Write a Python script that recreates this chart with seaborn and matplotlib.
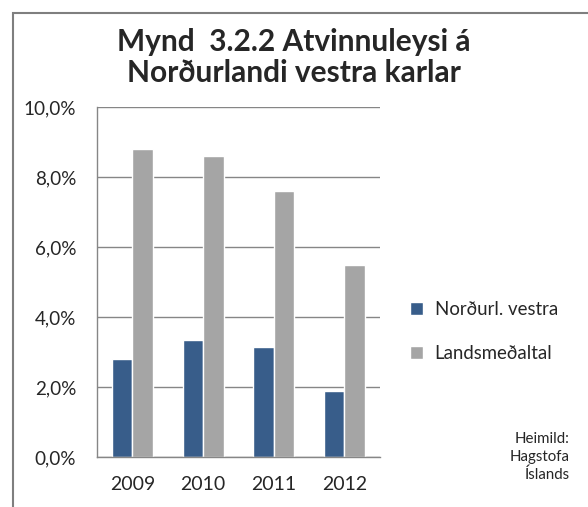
import matplotlib
matplotlib.use('Agg')
import matplotlib.pyplot as plt
from matplotlib.lines import Line2D
import pandas as pd
import seaborn as sns

years = ['2009', '2010', '2011', '2012']
nordurl_vestra = [2.8, 3.35, 3.15, 1.9]
landsmedaltal = [8.8, 8.6, 7.6, 5.5]
series_names = ['Norðurl. vestra', 'Landsmeðaltal']
y_ticks = [0, 2, 4, 6, 8, 10]
y_tick_labels = ['0,0%', '2,0%', '4,0%', '6,0%', '8,0%', '10,0%']

df = pd.DataFrame({
    'year': years * 2,
    'value': nordurl_vestra + landsmedaltal,
    'series': [series_names[0]] * len(years) + [series_names[1]] * len(years),
})

sns.set_style('white')
plt.rcParams['font.family'] = ['Lato', 'DejaVu Sans']

fig = plt.figure(figsize=(5.88, 5.07), dpi=100)
ax = fig.add_axes([0.165, 0.0986, 0.481, 0.69])

sns.barplot(data=df, x='year', y='value', hue='series',
            palette=['#385D8A', '#A5A5A5'], width=0.58, gap=0,
            saturation=1, ax=ax)

ax.set_ylim(0, 10)
ax.set_yticks(y_ticks)
ax.set_yticklabels(y_tick_labels, fontsize=13.6)
ax.tick_params(axis='x', labelsize=14, length=0, pad=14)
ax.tick_params(axis='y', length=0, pad=15)
ax.set_xlabel('')
ax.set_ylabel('')
ax.yaxis.grid(True, color='#868686', linewidth=1)
ax.set_axisbelow(True)
for s in ['top', 'right']:
    ax.spines[s].set_visible(False)
for s in ['left', 'bottom']:
    ax.spines[s].set_color('#868686')
    ax.spines[s].set_linewidth(1)

leg = ax.legend(loc='center left', bbox_to_anchor=(0.668, 0.346),
                bbox_transform=fig.transFigure, frameon=False,
                fontsize=13.4, handlelength=0.75, handleheight=0.75,
                labelspacing=1.45, handletextpad=0.6)

fig.text(0.5, 0.887, 'Mynd  3.2.2 Atvinnuleysi á\nNorðurlandi vestra karlar',
         ha='center', va='center', fontsize=21.5, fontweight='bold',
         linespacing=1.15)
fig.text(0.969, 0.0986, 'Heimild:\nHagstofa\nÍslands', ha='right', va='center',
         fontsize=10.8, linespacing=1.33)

# chart border (top and left edges visible)
border = plt.Rectangle((12.5 / 588, -0.05), 1.0, 1.05 - 12.5 / 507,
                       transform=fig.transFigure, fill=False,
                       edgecolor='#7f7f7f', linewidth=1.5, zorder=10)
fig.add_artist(border)

fig.savefig('out.png', dpi=100, facecolor='white')
